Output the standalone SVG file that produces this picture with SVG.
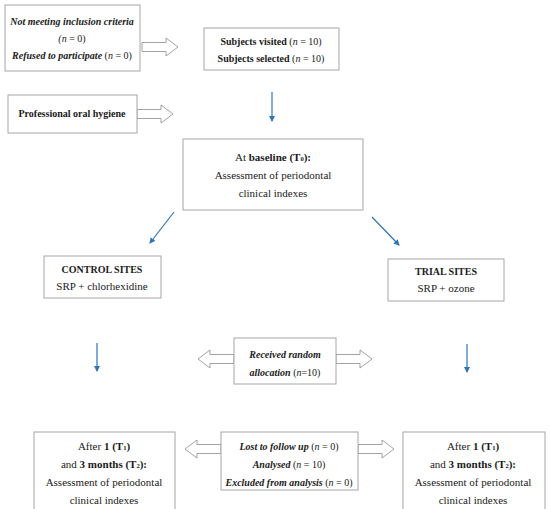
<svg xmlns="http://www.w3.org/2000/svg" width="550" height="509" viewBox="0 0 550 509">
<style>
.box{fill:#fff;stroke:#a6a6a6;stroke-width:1}
.ha{fill:#fff;stroke:#8c8c8c;stroke-width:0.8}
.blue{stroke:#2e75b6;stroke-width:1.2;fill:none;marker-end:url(#ah)}
text{font-family:"Liberation Serif","Times New Roman",serif;font-size:10px;fill:#1a1a1a;text-anchor:middle}
.r{font-size:11px}
.b{font-weight:bold}
.bi{font-weight:bold;font-style:italic}
.i{font-style:italic}
.s{font-size:6.5px;font-weight:bold}
</style>
<defs>
<marker id="ah" markerWidth="6" markerHeight="6" refX="5" refY="3" orient="auto" markerUnits="userSpaceOnUse">
<path d="M0,0 L6,3 L0,6 Z" fill="#2e75b6"/>
</marker>
<path id="har" d="M0,-4.5 H24 V-9 L36,0 L24,9 V4.5 H0 Z"/>
</defs>
<rect width="550" height="509" fill="#fff"/>
<g id="connectors">
<use href="#har" class="ha" transform="translate(142,47)"/>
<use href="#har" class="ha" transform="translate(137,114)"/>
<line class="blue" x1="272" y1="92" x2="272" y2="121"/>
<line class="blue" x1="174" y1="212" x2="150" y2="243"/>
<line class="blue" x1="372" y1="217" x2="399" y2="245"/>
<line class="blue" x1="97" y1="343" x2="97" y2="371"/>
<line class="blue" x1="467" y1="344" x2="467" y2="372"/>
<use href="#har" class="ha" transform="translate(234,359) scale(-1,1)"/>
<use href="#har" class="ha" transform="translate(336,359)"/>
<use href="#har" class="ha" transform="translate(221,449) scale(-1,1)"/>
<use href="#har" class="ha" transform="translate(358,449)"/>
</g>
<g id="exclusion">
<rect class="box" x="5" y="5" width="135" height="66"/>
<text x="72" y="25" class="bi">Not meeting inclusion criteria</text>
<text x="72" y="42"><tspan class="i">(n</tspan> = 0)</text>
<text x="72" y="59"><tspan class="bi">Refused to participate</tspan> (<tspan class="i">n</tspan> = 0)</text>
</g>
<g id="subjects">
<rect class="box" x="204" y="28" width="135" height="42"/>
<text x="271" y="45"><tspan class="b">Subjects visited</tspan> (<tspan class="i">n</tspan> = 10)</text>
<text x="271" y="62"><tspan class="b">Subjects selected</tspan> (<tspan class="i">n</tspan> = 10)</text>
</g>
<g id="hygiene">
<rect class="box" x="8" y="95" width="129" height="38"/>
<text x="72" y="117" class="b">Professional oral hygiene</text>
</g>
<g id="baseline">
<rect class="box" x="183" y="139" width="180" height="71"/>
<text x="273" y="161" class="r">At <tspan class="b">baseline (T</tspan><tspan class="s">0</tspan><tspan class="b">):</tspan></text>
<text x="273" y="179" class="r">Assessment of periodontal</text>
<text x="273" y="197" class="r">clinical indexes</text>
</g>
<g id="control">
<rect class="box" x="44" y="256" width="117" height="42"/>
<text x="102" y="273" class="b">CONTROL SITES</text>
<text x="102" y="290" class="r">SRP + chlorhexidine</text>
</g>
<g id="trial">
<rect class="box" x="388" y="259" width="116" height="42"/>
<text x="446" y="275" class="b">TRIAL SITES</text>
<text x="446" y="292" class="r">SRP + ozone</text>
</g>
<g id="random">
<rect class="box" x="234" y="338" width="102" height="46"/>
<text x="285" y="358" class="bi">Received random</text>
<text x="285" y="376"><tspan class="bi">allocation</tspan> (<tspan class="i">n</tspan>=10)</text>
</g>
<g id="after-control">
<rect class="box" x="34" y="432" width="141" height="80"/>
<text x="104" y="450" class="r">After <tspan class="b">1 (T</tspan><tspan class="s">1</tspan><tspan class="b">)</tspan></text>
<text x="104" y="468" class="r">and <tspan class="b">3 months (T</tspan><tspan class="s">2</tspan><tspan class="b">):</tspan></text>
<text x="104" y="486" class="r">Assessment of periodontal</text>
<text x="104" y="504" class="r">clinical indexes</text>
</g>
<g id="followup">
<rect class="box" x="221" y="432" width="137" height="58"/>
<text x="289" y="450"><tspan class="bi">Lost to follow up</tspan> (<tspan class="i">n</tspan> = 0)</text>
<text x="289" y="468"><tspan class="bi">Analysed</tspan> (<tspan class="i">n</tspan> = 10)</text>
<text x="289" y="486"><tspan class="bi">Excluded from analysis</tspan> (<tspan class="i">n</tspan> = 0)</text>
</g>
<g id="after-trial">
<rect class="box" x="403" y="432" width="142" height="80"/>
<text x="473" y="450" class="r">After <tspan class="b">1 (T</tspan><tspan class="s">1</tspan><tspan class="b">)</tspan></text>
<text x="473" y="468" class="r">and <tspan class="b">3 months (T</tspan><tspan class="s">2</tspan><tspan class="b">):</tspan></text>
<text x="473" y="486" class="r">Assessment of periodontal</text>
<text x="473" y="504" class="r">clinical indexes</text>
</g>
</svg>
